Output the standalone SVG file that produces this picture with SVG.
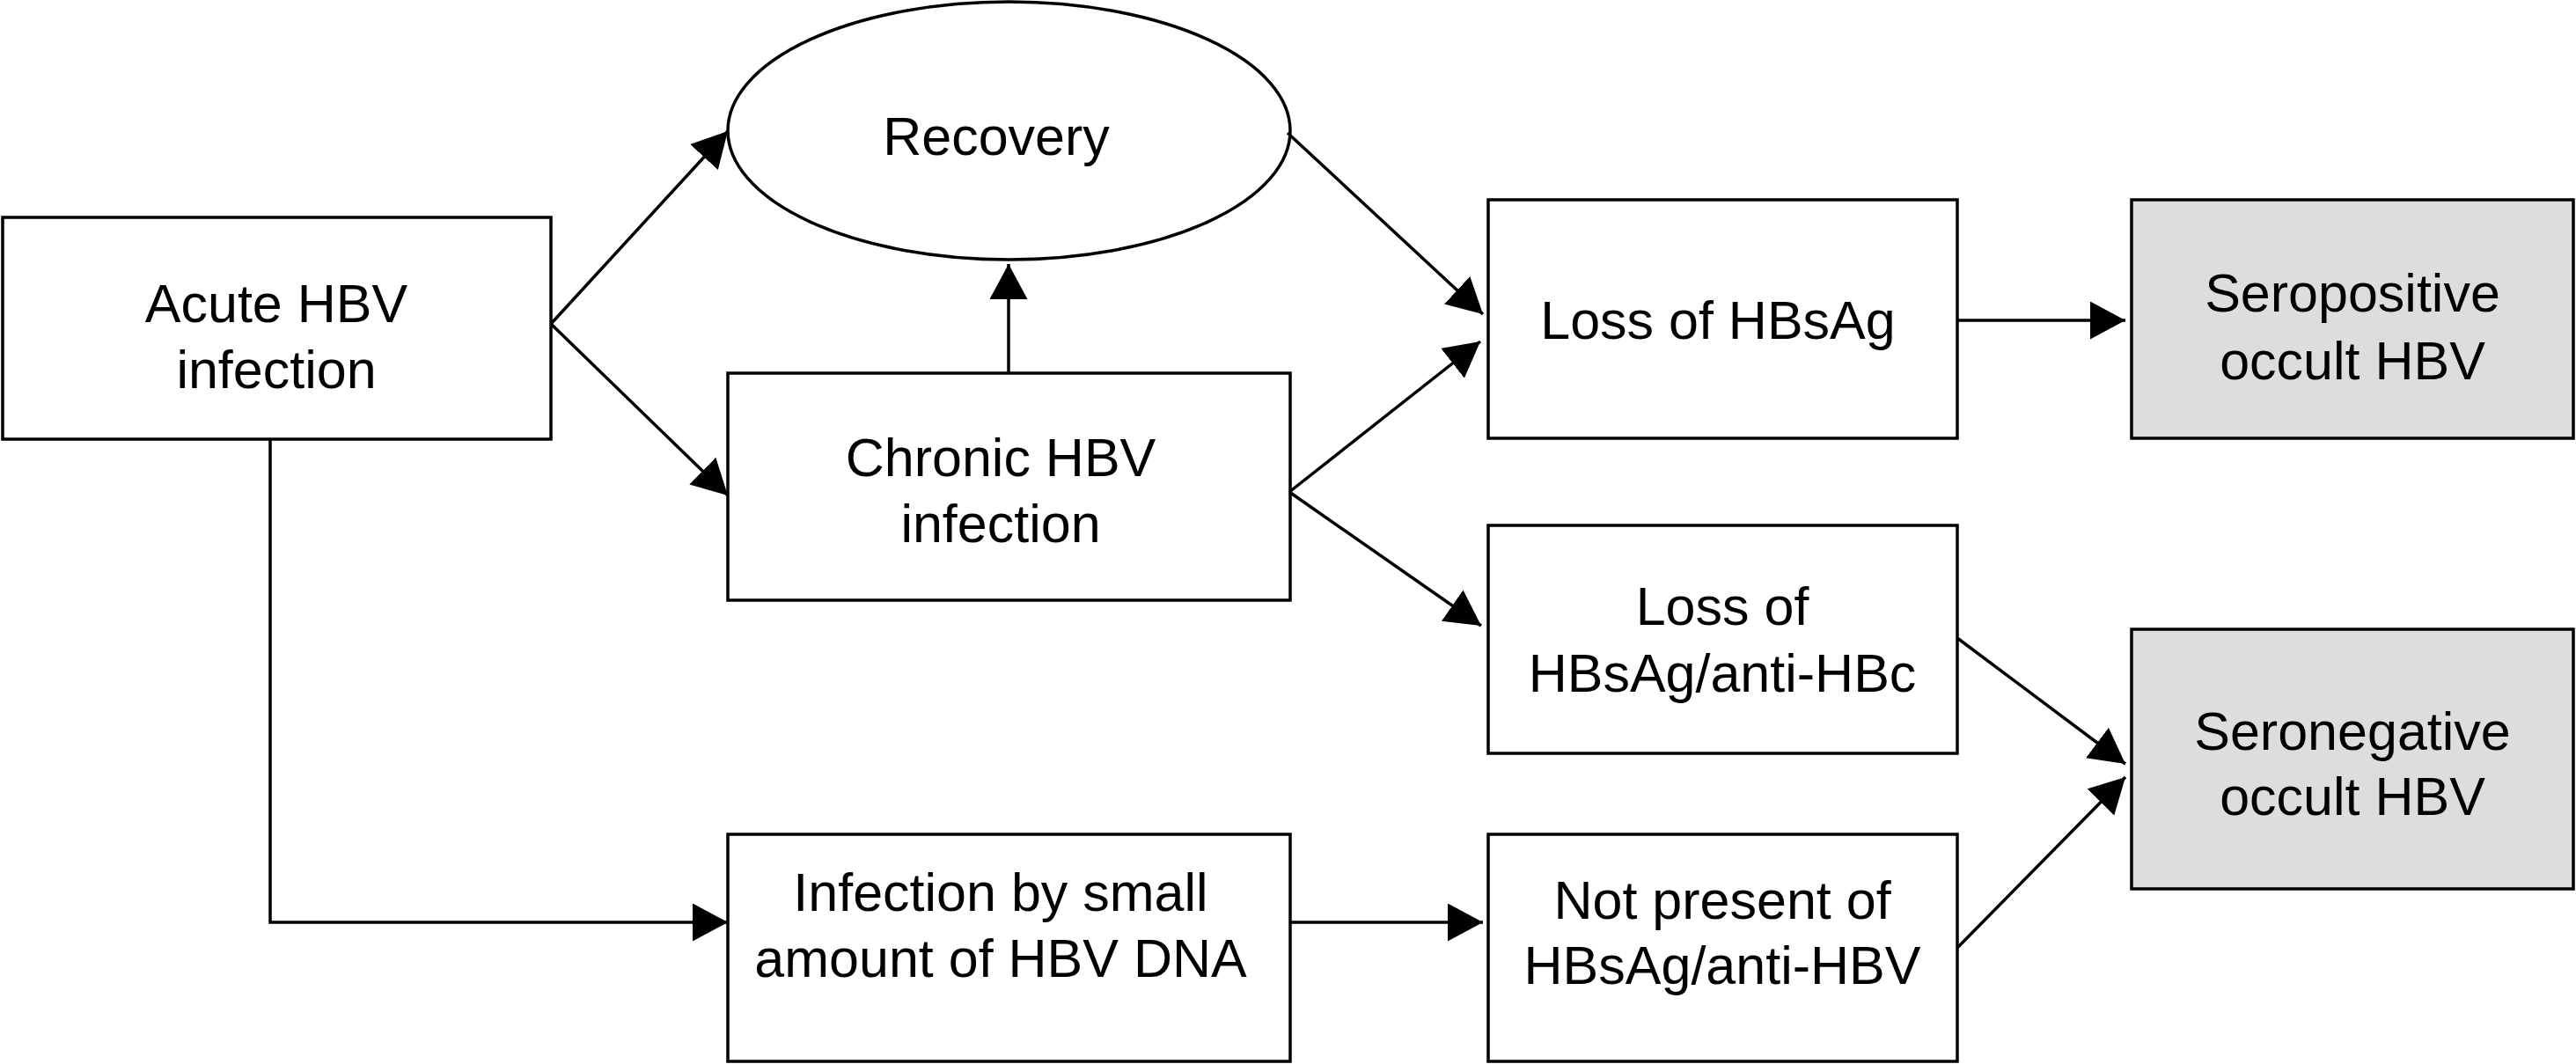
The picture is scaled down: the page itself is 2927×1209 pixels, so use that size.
<svg xmlns="http://www.w3.org/2000/svg" width="2927" height="1209" viewBox="0 0 2927 1209">
<style>
.box{fill:#fff;stroke:#000;stroke-width:3.5}
.gray{fill:#dddddd;stroke:#000;stroke-width:3.5}
.lbl{font-family:"Liberation Sans",Arial,sans-serif;font-size:61px;fill:#000;text-anchor:middle}
.conn{stroke:#000;stroke-width:3.5;fill:none;marker-end:url(#ah)}
</style>
<defs>
<marker id="ah" markerUnits="userSpaceOnUse" markerWidth="42" markerHeight="44" refX="40" refY="21.5" orient="auto" viewBox="0 0 42 44">
<path d="M0,0 L40,21.5 L0,43 Z" fill="#000"/>
</marker>
</defs>
<rect width="2927" height="1209" fill="#fff"/>
<g id="acute">
<rect class="box" x="3" y="247" width="623" height="252"/>
<text class="lbl" x="314" y="366">Acute HBV</text>
<text class="lbl" x="314" y="441">infection</text>
</g>
<g id="recovery">
<ellipse class="box" cx="1146.5" cy="148.5" rx="319.5" ry="146.5"/>
<text class="lbl" x="1132" y="176">Recovery</text>
</g>
<g id="chronic">
<rect class="box" x="827" y="424" width="639" height="258"/>
<text class="lbl" x="1137" y="541">Chronic HBV</text>
<text class="lbl" x="1137" y="616">infection</text>
</g>
<g id="small">
<rect class="box" x="827" y="948" width="639" height="258"/>
<text class="lbl" x="1137" y="1035">Infection by small</text>
<text class="lbl" x="1137" y="1110">amount of HBV DNA</text>
</g>
<g id="lossHBsAg">
<rect class="box" x="1691" y="227" width="533" height="271"/>
<text class="lbl" x="1952" y="385">Loss of HBsAg</text>
</g>
<g id="lossAntiHBc">
<rect class="box" x="1691" y="597" width="533" height="259"/>
<text class="lbl" x="1957" y="710">Loss of</text>
<text class="lbl" x="1957" y="786">HBsAg/anti-HBc</text>
</g>
<g id="notPresent">
<rect class="box" x="1691" y="948" width="533" height="258"/>
<text class="lbl" x="1957" y="1044">Not present of</text>
<text class="lbl" x="1957" y="1118">HBsAg/anti-HBV</text>
</g>
<g id="seropositive">
<rect class="gray" x="2422" y="227" width="502" height="271"/>
<text class="lbl" x="2673" y="354">Seropositive</text>
<text class="lbl" x="2673" y="431">occult HBV</text>
</g>
<g id="seronegative">
<rect class="gray" x="2422" y="715" width="502" height="295"/>
<text class="lbl" x="2673" y="852">Seronegative</text>
<text class="lbl" x="2673" y="926">occult HBV</text>
</g>
<g id="connectors">
<line class="conn" x1="626" y1="368" x2="827" y2="149"/>
<line class="conn" x1="626" y1="368" x2="827" y2="563"/>
<line class="conn" x1="1146" y1="424" x2="1146" y2="300"/>
<line class="conn" x1="1463" y1="151" x2="1685" y2="357"/>
<line class="conn" x1="1465" y1="559" x2="1682" y2="388"/>
<line class="conn" x1="1465" y1="559" x2="1683" y2="711"/>
<line class="conn" x1="2224" y1="364" x2="2415" y2="364"/>
<line class="conn" x1="2224" y1="725" x2="2415" y2="868"/>
<line class="conn" x1="2224" y1="1077" x2="2415" y2="883"/>
<line class="conn" x1="1466" y1="1048" x2="1685" y2="1048"/>
<polyline class="conn" points="307,499 307,1048 827,1048"/>
</g>
</svg>
